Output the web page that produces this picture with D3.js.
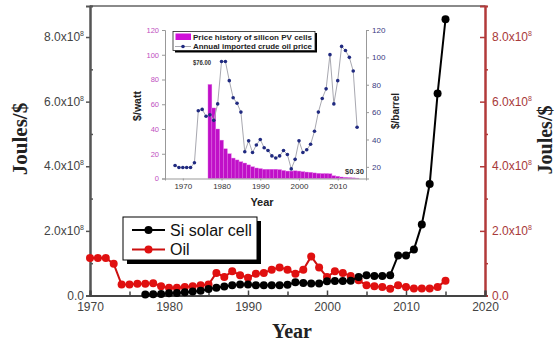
<!DOCTYPE html>
<html><head><meta charset="utf-8">
<script src="https://cdn.jsdelivr.net/npm/d3@7"></script>
<style>body{margin:0;background:#fff}svg{display:block}</style>
</head><body><svg id="c" width="556" height="342"></svg>
<script>
// ---------- main chart data (Joules/$) ----------
const mainXTicks = [1970,1980,1990,2000,2010,2020];
const mainXMinor = [1975,1985,1995,2005,2015];
const mainYTicks = [0,2e8,4e8,6e8,8e8];
const mainYMinor = [1e8,3e8,5e8,7e8];
const siYears = [1977,1978,1979,1980,1981,1982,1983,1984,1985,1986,1987,1988,1989,1990,1991,1992,1993,1994,1995,1996,1997,1998,1999,2000,2001,2002,2003,2004,2005,2006,2007,2008,2009,2010,2011,2012,2013,2014,2015];
const siValues = [0.03,0.04,0.05,0.07,0.08,0.10,0.12,0.15,0.20,0.24,0.28,0.32,0.34,0.34,0.32,0.32,0.32,0.32,0.33,0.41,0.39,0.37,0.37,0.44,0.45,0.45,0.46,0.57,0.63,0.60,0.60,0.63,1.24,1.24,1.42,2.20,3.45,6.25,8.55].map(v=>v*1e8);
const oilYears = [1970,1971,1972,1973,1974,1975,1976,1977,1978,1979,1980,1981,1982,1983,1984,1985,1986,1987,1988,1989,1990,1991,1992,1993,1994,1995,1996,1997,1998,1999,2000,2001,2002,2003,2004,2005,2006,2007,2008,2009,2010,2011,2012,2013,2014,2015];
const oilValues = [1.16,1.16,1.16,0.98,0.34,0.34,0.36,0.36,0.38,0.29,0.24,0.24,0.26,0.29,0.32,0.34,0.70,0.57,0.75,0.63,0.55,0.67,0.70,0.80,0.87,0.80,0.67,0.80,1.21,0.87,0.57,0.75,0.70,0.60,0.47,0.32,0.29,0.26,0.21,0.32,0.26,0.22,0.22,0.22,0.26,0.46].map(v=>v*1e8);
const seriesNames = ["Si solar cell","Oil"];

// ---------- inset data ----------
const insetXTicks = [1970,1980,1990,2000,2010];
const insetLeftTicks = [0,20,40,60,80,100,120];
const insetRightTicks = [20,40,60,80,100,120];
const pvYears = [1977,1978,1979,1980,1981,1982,1983,1984,1985,1986,1987,1988,1989,1990,1991,1992,1993,1994,1995,1996,1997,1998,1999,2000,2001,2002,2003,2004,2005,2006,2007,2008,2009,2010,2011,2012,2013,2014,2015];
const pvPrice = [76,57,40,31,24,20,16.5,15,13.5,12.5,11,9.5,8.5,8,7.5,7.5,7.5,7.5,7.2,6.5,6,6,6.2,6,5.5,5.2,5,4.5,4.2,4,4,3.8,2.2,1.8,1.2,0.9,0.7,0.5,0.3];
const crudeYears = [1968,1969,1970,1971,1972,1973,1974,1975,1976,1977,1978,1979,1980,1981,1982,1983,1984,1985,1986,1987,1988,1989,1990,1991,1992,1993,1994,1995,1996,1997,1998,1999,2000,2001,2002,2003,2004,2005,2006,2007,2008,2009,2010,2011,2012,2013,2014,2015];
const crudePrice = [21,19.5,19.5,19.5,19.5,23,61,62,57,58,54,66,97,97,83,70.5,66.5,60,31,39,30.5,36,40,34,32,28,26.5,28,32,29,18.5,25.5,39,30.5,32.5,36.5,46,60,70,77,102,66,83,108,105,100,90,49];
const insetLegend = ["Price history of silicon PV cells","Annual imported crude oil price"];

const svg = d3.select('#c');
const sans = "'Liberation Sans', Arial, sans-serif";
const serif = "'Liberation Serif', 'Times New Roman', serif";

// ---------- main scales ----------
const x = d3.scaleLinear().domain([1970,2020]).range([90,485]);
const y = d3.scaleLinear().domain([0,8.96e8]).range([295.5,6]);
const [x0,x1] = x.range(), [yb,yt] = y.range();

// top frame
svg.append('line').attr('x1',x0).attr('x2',x1).attr('y1',yt).attr('y2',yt).attr('stroke','#8a8a8a').attr('stroke-width',2);

function fmtY(g, v){
  const t = g.append('text').attr('font-family',sans).attr('font-size',12);
  if(v===0){ t.text('0.0'); return t; }
  t.append('tspan').text((v/1e8).toFixed(1)+'x10');
  t.append('tspan').attr('font-size',7).attr('dy',-5).text('8');
  return t;
}

// left axis
const gl = svg.append('g').attr('transform',`translate(${x0},0)`);
gl.call(d3.axisLeft(y).tickValues(mainYTicks).tickSize(4).tickFormat(''));
gl.append('g').call(d3.axisLeft(y).tickValues(mainYMinor).tickSize(-3).tickFormat(''));
gl.selectAll('path,line').attr('stroke','#555').attr('stroke-width',1.5);
gl.selectAll('.domain').attr('stroke','#555').attr('stroke-width',2);
mainYTicks.forEach(v=>{
  fmtY(gl, v).attr('fill','#444').attr('text-anchor','end').attr('x',-6).attr('y',y(v)+4);
});

// right axis
const gr = svg.append('g').attr('transform',`translate(${x1},0)`);
gr.call(d3.axisRight(y).tickValues(mainYTicks).tickSize(-5).tickFormat(''));
gr.append('g').call(d3.axisRight(y).tickValues(mainYMinor).tickSize(3).tickFormat(''));
gr.selectAll('path,line').attr('stroke','#b23a3a').attr('stroke-width',1.5);
gr.selectAll('.domain').attr('stroke-width',2);
mainYTicks.forEach(v=>{
  fmtY(gr, v).attr('fill','#a83a3a').attr('text-anchor','start').attr('x',7).attr('y',y(v)+4);
});

// bottom axis
const gb = svg.append('g').attr('transform',`translate(0,${yb})`);
gb.call(d3.axisBottom(x).tickValues(mainXTicks).tickSize(-5).tickFormat(d3.format('d')));
gb.append('g').call(d3.axisBottom(x).tickValues(mainXMinor).tickSize(-4).tickFormat(''));
gb.selectAll('path,line').attr('stroke','#444').attr('stroke-width',1.5);
gb.select('.domain').attr('stroke-width',2);
gb.selectAll('text').attr('font-family',sans).attr('font-size',12).attr('fill','#444').attr('y',7);

// axis titles
svg.append('text').attr('transform','translate(27,139) rotate(-90)').attr('text-anchor','middle')
  .attr('font-family',serif).attr('font-weight','bold').attr('font-size',21).attr('fill','#222').text('Joules/$');
svg.append('text').attr('transform','translate(552,140) rotate(-90)').attr('text-anchor','middle')
  .attr('font-family',serif).attr('font-weight','bold').attr('font-size',20).attr('fill','#222').text('Joules/$');
svg.append('text').attr('x',292).attr('y',338).attr('text-anchor','middle')
  .attr('font-family',serif).attr('font-weight','bold').attr('font-size',20).attr('fill','#222').text('Year');

// main series
const line = d3.line().x(d=>x(d[0])).y(d=>y(d[1]));
const oilData = oilYears.map((yr,i)=>[yr,oilValues[i]]);
const siData = siYears.map((yr,i)=>[yr,siValues[i]]);
svg.append('path').datum(oilData).attr('d',line).attr('fill','none').attr('stroke','#cc1010').attr('stroke-width',2);
svg.append('g').selectAll('circle').data(oilData).join('circle').attr('cx',d=>x(d[0])).attr('cy',d=>y(d[1])).attr('r',4).attr('fill','#e01010');
svg.append('path').datum(siData).attr('d',line).attr('fill','none').attr('stroke','#000').attr('stroke-width',2);
svg.append('g').selectAll('circle').data(siData).join('circle').attr('cx',d=>x(d[0])).attr('cy',d=>y(d[1])).attr('r',4).attr('fill','#000');

// main legend
const lg = svg.append('g');
lg.append('rect').attr('x',127).attr('y',221).attr('width',134).attr('height',43).attr('fill','#000');
lg.append('rect').attr('x',123).attr('y',217).attr('width',134).attr('height',43).attr('fill','#fff').attr('stroke','#000').attr('stroke-width',1);
[['#000','#000'],['#cc1010','#e01010']].forEach((c,i)=>{
  const yy = 230 + i*19.5;
  lg.append('line').attr('x1',132).attr('x2',165).attr('y1',yy).attr('y2',yy).attr('stroke',c[0]).attr('stroke-width',2);
  lg.append('circle').attr('cx',148.5).attr('cy',yy).attr('r',4).attr('fill',c[1]);
  lg.append('text').attr('x',170).attr('y',yy+5.5).attr('font-family',sans).attr('font-size',16).attr('fill','#111').text(seriesNames[i]);
});

// ---------- inset ----------
const ix = d3.scaleLinear().domain([1965.4,2017.3]).range([165,366]);
const iyL = d3.scaleLinear().domain([0,120]).range([178.5,30]);
const iyR = d3.scaleLinear().domain([11.5,120]).range([178.5,30]);
const ins = svg.append('g');
const bw = ix(1978)-ix(1977);
ins.append('g').selectAll('rect').data(pvYears.map((yr,i)=>[yr,pvPrice[i]])).join('rect')
  .attr('x',d=>ix(d[0])-bw/2).attr('width',bw).attr('y',d=>iyL(d[1])).attr('height',d=>iyL(0)-iyL(d[1]))
  .attr('fill','#c010c8').attr('stroke','#e070e6').attr('stroke-width',0.4);

const crude = crudeYears.map((yr,i)=>[yr,crudePrice[i]]);
ins.append('path').datum(crude).attr('d',d3.line().x(d=>ix(d[0])).y(d=>iyR(d[1]))).attr('fill','none').attr('stroke','#a8a8b0').attr('stroke-width',1);
ins.append('g').selectAll('circle').data(crude).join('circle').attr('cx',d=>ix(d[0])).attr('cy',d=>iyR(d[1])).attr('r',1.8).attr('fill','#202a80');

// inset axes
const il = ins.append('g').attr('transform',`translate(${ix.range()[0]},0)`);
il.call(d3.axisLeft(iyL).tickValues(insetLeftTicks).tickSize(3));
il.selectAll('path,line').attr('stroke','#999');
il.selectAll('text').attr('font-family',sans).attr('font-size',7.5).attr('fill','#c050c0');
const ir = ins.append('g').attr('transform',`translate(${ix.range()[1]},0)`);
ir.call(d3.axisRight(iyR).tickValues(insetRightTicks).tickSize(3));
ir.selectAll('path,line').attr('stroke','#999');
ir.selectAll('text').attr('font-family',sans).attr('font-size',8).attr('fill','#3a3a80');
const ib = ins.append('g').attr('transform',`translate(0,${iyL.range()[0]})`);
ib.call(d3.axisBottom(ix).tickValues(insetXTicks).tickSize(2).tickFormat(d3.format('d')));
ib.selectAll('path,line').attr('stroke','#999');
ib.selectAll('text').attr('font-family',sans).attr('font-size',8).attr('fill','#333');

ins.append('text').attr('transform','translate(141,106) rotate(-90)').attr('text-anchor','middle')
  .attr('font-family',sans).attr('font-weight','bold').attr('font-size',10.5).attr('fill','#222').text('$/watt');
ins.append('text').attr('transform','translate(399,111) rotate(-90)').attr('text-anchor','middle')
  .attr('font-family',sans).attr('font-weight','bold').attr('font-size',10).attr('fill','#222').text('$/barrel');
ins.append('text').attr('x',262).attr('y',206).attr('text-anchor','middle')
  .attr('font-family',sans).attr('font-weight','bold').attr('font-size',11).attr('fill','#222').text('Year');

// inset annotations
ins.append('text').attr('x',193).attr('y',65).attr('font-family',sans).attr('font-weight','bold').attr('font-size',7)
  .attr('textLength',18).attr('lengthAdjust','spacingAndGlyphs').attr('fill','#333').text('$' + pvPrice[0].toFixed(2));
ins.append('text').attr('x',345).attr('y',173.5).attr('font-family',sans).attr('font-weight','bold').attr('font-size',7.5)
  .attr('textLength',19).attr('lengthAdjust','spacingAndGlyphs').attr('fill','#333').text('$' + pvPrice[pvPrice.length-1].toFixed(2));

// inset legend
const il2 = ins.append('g');
il2.append('rect').attr('x',175).attr('y',33).attr('width',142).attr('height',19.5).attr('fill','#000');
il2.append('rect').attr('x',173).attr('y',31.5).attr('width',142).attr('height',19).attr('fill','#fff').attr('stroke','#222').attr('stroke-width',0.8);
il2.append('rect').attr('x',175.5).attr('y',33.5).attr('width',15.5).attr('height',6.5).attr('fill','#d010d8');
il2.append('line').attr('x1',175).attr('x2',191).attr('y1',46.5).attr('y2',46.5).attr('stroke','#a8a8b0').attr('stroke-width',1);
il2.append('circle').attr('cx',183).attr('cy',46.5).attr('r',1.8).attr('fill','#202a80');
insetLegend.forEach((t,i)=>{
  il2.append('text').attr('x',193).attr('y',39.5+i*9.8).attr('font-family',sans).attr('font-weight','bold').attr('font-size',7.5)
    .attr('textLength',119).attr('lengthAdjust','spacingAndGlyphs').attr('fill','#222').text(t);
});
</script></body></html>
